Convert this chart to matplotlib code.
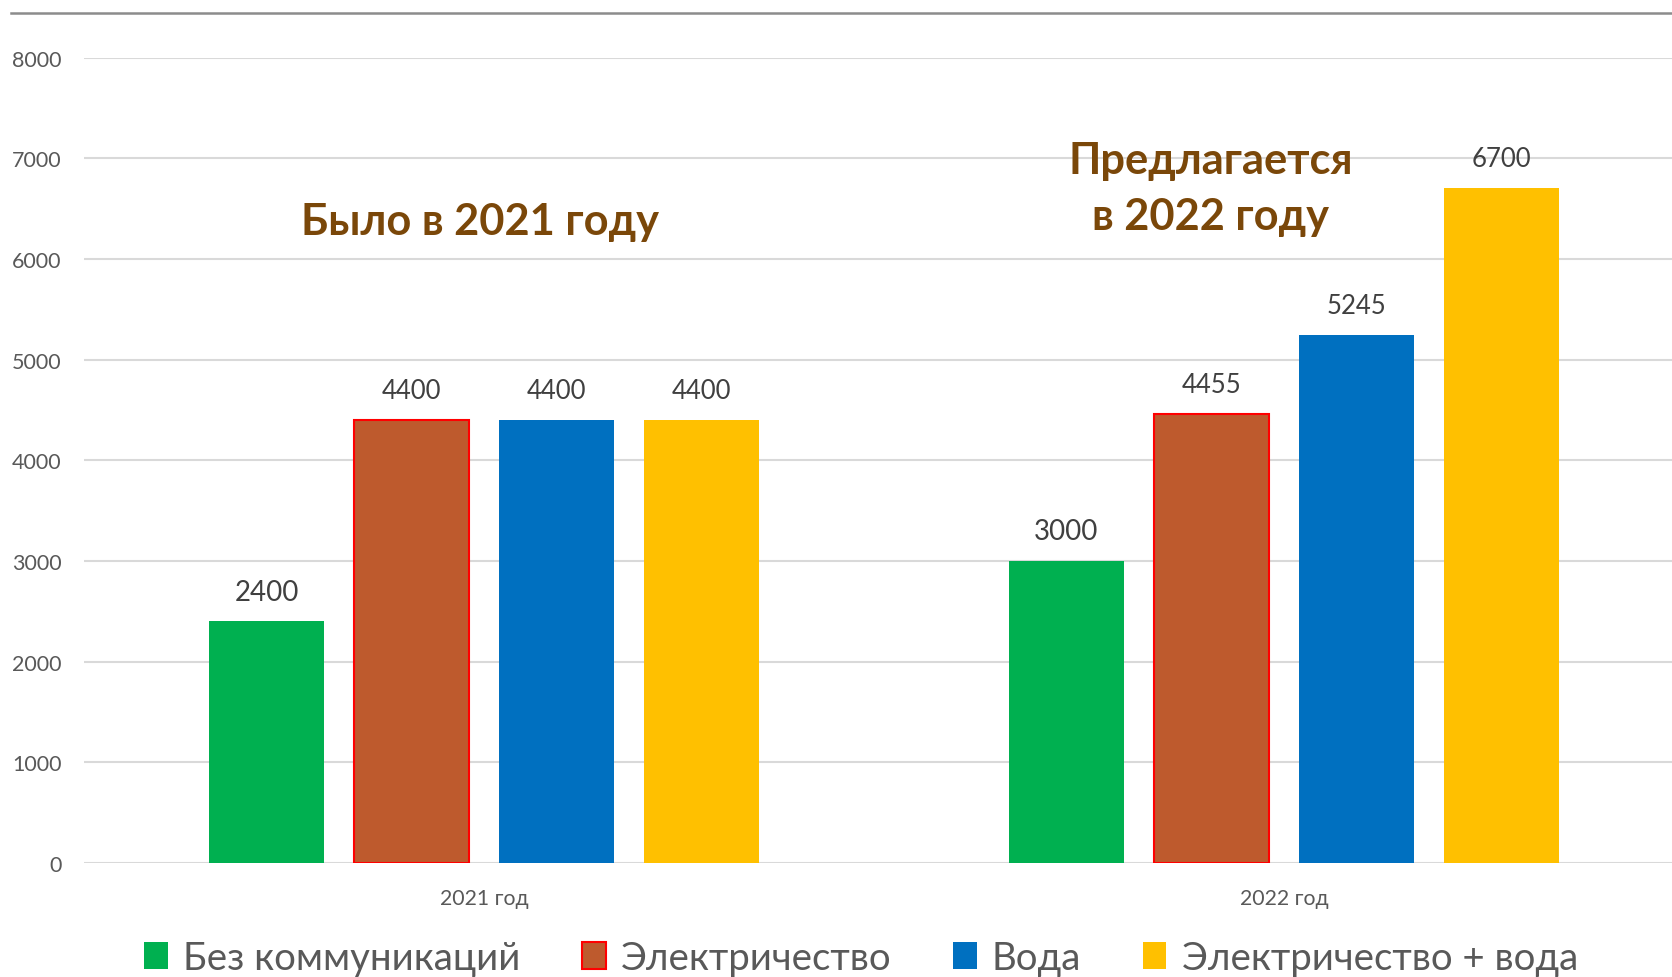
import matplotlib
matplotlib.use("Agg")
import matplotlib.pyplot as plt
import numpy as np
from matplotlib.lines import Line2D

plt.rcParams['font.family'] = ['Lato', 'Open Sans', 'DejaVu Sans']

categories = ["2021 год", "2022 год"]
series_names = ["Без коммуникаций", "Электричество", "Вода", "Электричество + вода"]
values_no_comm = [2400, 3000]
values_electric = [4400, 4455]
values_water = [4400, 5245]
values_both = [4400, 6700]
series_values = [values_no_comm, values_electric, values_water, values_both]
colors = ["#00B050", "#BE5A2D", "#0070C0", "#FFC000"]
edgecolors = ["none", "#FF0000", "none", "none"]
label_sizes = [20, 18.5, 18.5, 18.5]
yticks = [0, 1000, 2000, 3000, 4000, 5000, 6000, 7000, 8000]
title_left = "Было в 2021 году"
title_right = "Предлагается\nв 2022 году"

W, H = 1672, 978
fig = plt.figure(figsize=(W / 100, H / 100), dpi=100)
ax_left = 84 / W
ax_bottom = (H - 864) / H
ax_top = (H - 58.6) / H
ax = fig.add_axes([ax_left, ax_bottom, 1 - ax_left, ax_top - ax_bottom])

x = np.arange(len(categories))
bw = 0.144
step = 0.1813
handles = []
for i, (vals, c, ec) in enumerate(zip(series_values, colors, edgecolors)):
    off = (i - 1.5) * step
    bars = ax.bar(x + off, vals, width=bw, color=c,
                  edgecolor=ec, linewidth=1.5 if ec != "none" else 0,
                  zorder=3, label=series_names[i])
    handles.append(bars)
    for xi, v in zip(x + off, vals):
        ax.annotate(f"{v}", xy=(xi, v), xytext=(0, 21.5), textcoords="offset points",
                    ha="center", va="center", fontsize=label_sizes[i], color="#404040")

ax.set_xlim(-0.5, 1.485)
ax.set_ylim(0, 8000)
ax.set_yticks(yticks)
ax.set_yticklabels([str(t) for t in yticks], fontsize=15.5, color="#595959")
ax.set_xticks(x)
ax.set_xticklabels(categories, fontsize=15.3, color="#595959")
ax.tick_params(axis="y", length=0, pad=16)
ax.tick_params(axis="x", length=0, pad=18)
ax.grid(axis="y", color="#D9D9D9", linewidth=1.5, zorder=0)
ax.set_axisbelow(True)
for s in ax.spines.values():
    s.set_visible(False)

# top border line
fig.add_artist(Line2D([11 / W, 1], [1 - 14 / H, 1 - 14 / H], color="#8C8C8C", linewidth=1.8))

title_color = "#7A4709"
fig.text(480 / W, 1 - 222 / H, title_left, ha="center", va="center",
         fontsize=31.2, fontweight="bold", color=title_color)
fig.text(1211 / W, 1 - 189 / H, title_right, ha="center", va="center",
         fontsize=31.2, fontweight="bold", color=title_color, linespacing=1.48)

leg = fig.legend(handles=handles, labels=series_names, loc="center",
                 bbox_to_anchor=(861 / W, 1 - 959 / H), ncol=4, frameon=False,
                 fontsize=27.6, handlelength=0.62, handleheight=0.72, handletextpad=0.4,
                 columnspacing=1.6, labelcolor="#595959")

fig.savefig("out.png", dpi=100)
